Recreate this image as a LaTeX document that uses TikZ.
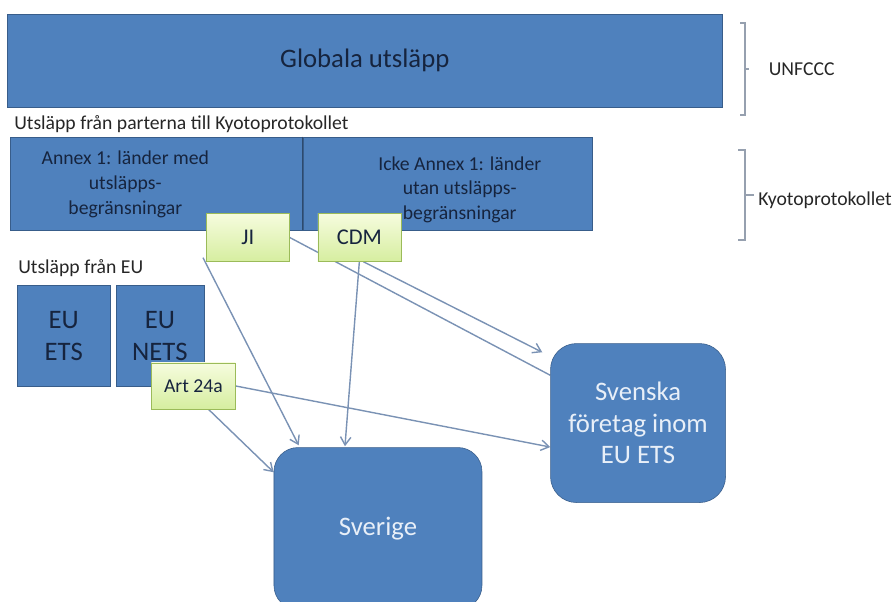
\documentclass[tikz,border=0pt]{standalone}
\usepackage{fontspec}
\setmainfont{Carlito}
\usetikzlibrary{arrows.meta,positioning,backgrounds}
\usepackage{xcolor}
\definecolor{boxbla}{RGB}{79,129,189}
\definecolor{boxkant}{RGB}{56,93,138}
\definecolor{gronttopp}{RGB}{246,252,222}
\definecolor{grontbotten}{RGB}{214,238,160}
\definecolor{grontkant}{RGB}{155,187,89}
\definecolor{pilfarg}{RGB}{122,146,180}
\definecolor{morktext}{RGB}{22,36,62}
\definecolor{ljustext}{RGB}{232,239,248}
\definecolor{klammer}{RGB}{150,160,175}
\newcommand{\blabox}[4]{%
  \node[rectangle, draw=boxkant, fill=boxbla, align=center,
        minimum width=#2, minimum height=#3, inner sep=0pt, #4] (#1) }
\newcommand{\gronbox}[2]{%
  \node[rectangle, draw=grontkant, top color=gronttopp, bottom color=grontbotten,
        minimum width=2.075cm, minimum height=1.2cm, inner sep=0pt,
        font=\fontsize{16}{19}\selectfont, text=morktext, #2] (#1) }

\begin{document}
\begin{tikzpicture}[node distance=1cm and 1cm,
  rubrik/.style={inner sep=0pt, font=\fontsize{14}{17}\selectfont, text=black!85},
  boxtext/.style={inner sep=0pt, align=center, font=\fontsize{14}{17.5}\selectfont, text=morktext},
  stor/.style={font=\fontsize{19}{22.5}\selectfont},
  pil/.style={draw=pilfarg, line width=1pt, -{Straight Barb[length=2mm,width=2.6mm]}},
  linje/.style={draw=pilfarg, line width=1pt},
  klammerlinje/.style={draw=klammer, line width=0.8pt}]

\useasboundingbox (0,0) rectangle (22.4,-15.025);

\blabox{Globala}{17.875cm}{2.325cm}{anchor=north west, stor, text=morktext}
  at (0.175,-0.35) {Globala utsläpp};

\blabox{Annex}{7.3cm}{2.325cm}{below right=0.725cm and 0.075cm of Globala.south west} {};
\blabox{Icke}{7.225cm}{2.325cm}{right=0cm of Annex} {};
\draw[boxkant!80!black, line width=1.2pt] (Annex.north east) -- (Annex.south east);
\node[rubrik, above right=0.1cm and 0.1cm of Annex.north west] (KyotoRubrik)
  {Utsläpp från parterna till Kyotoprotokollet};
\node[boxtext] (AnnexText) at ([shift={(-0.775,-0.025)}]Annex.center)
  {Annex 1: länder med\\utsläpps-\\begränsningar};
\node[boxtext] (IckeText) at ([shift={(0.31,-0.16)}]Icke.center)
  {Icke Annex 1: länder\\utan utsläpps-\\begränsningar};

\gronbox{JI}{below left=-0.425cm and 0.325cm of Annex.south east} {JI};
\gronbox{CDM}{right=0.7cm of JI} {CDM};

\blabox{EUETS}{2.325cm}{2.525cm}{below right=1.375cm and 0.175cm of Annex.south west,
  stor, text=morktext} {EU\\ETS};
\blabox{EUNETS}{2.2cm}{2.525cm}{right=0.125cm of EUETS, stor, text=morktext} {EU\\NETS};
\node[rubrik, above right=0.2cm and 0.025cm of EUETS.north west] (EURubrik)
  {Utsläpp från EU};
\gronbox{Art}{below right=-0.6cm and -1.325cm of EUNETS.south east,
  minimum width=2.1cm, minimum height=1.15cm, font=\fontsize{14}{17}\selectfont} {Art 24a};

\blabox{Sverige}{5.2cm}{4.05cm}{below right=0.95cm and 0.95cm of Art.south east,
  rounded corners=0.6cm, stor, text=ljustext} {Sverige};
\blabox{Svenska}{4.375cm}{3.975cm}{below right=-2.6cm and 1.7cm of Sverige.north east,
  rounded corners=0.65cm, stor, text=ljustext} {Svenska\\företag inom\\EU ETS};

\node[rubrik, right=1.15cm of Globala.east, yshift=-0.2cm] (UNFCCC) {UNFCCC};
\node[rubrik, right=4.15cm of Icke.east, yshift=-0.41cm] (KyotoNamn) {Kyotoprotokollet};

\draw[klammerlinje] (18.5,-0.575) -- (18.625,-0.575) -- (18.625,-2.875) -- (18.5,-2.875)
  (18.625,-1.725) -- (18.725,-1.725);
\draw[klammerlinje] (18.45,-3.75) -- (18.625,-3.75) -- (18.625,-6.0) -- (18.45,-6.0)
  (18.625,-4.875) -- (18.85,-4.875);

\begin{scope}[on background layer]
\draw[pil] ([shift={(-0.075,0.1)}]JI.south west) -- ([shift={(0.625,0.05)}]Sverige.north west);
\draw[pil] (CDM.south) -- ([shift={(-0.825,0.025)}]Sverige.north);
\draw[pil] ([xshift=0.1cm]CDM.south) -- ([shift={(-0.2,-0.225)}]Svenska.north west);
\draw[linje] (JI.east) -- ([yshift=-0.8cm]Svenska.north west);
\draw[pil] (Art.east) -- ([yshift=-0.6cm]Svenska.west);
\draw[pil] ([xshift=0.375cm]Art.south) -- ([yshift=-0.625cm]Sverige.north west);
\end{scope}

\end{tikzpicture}
\end{document}
